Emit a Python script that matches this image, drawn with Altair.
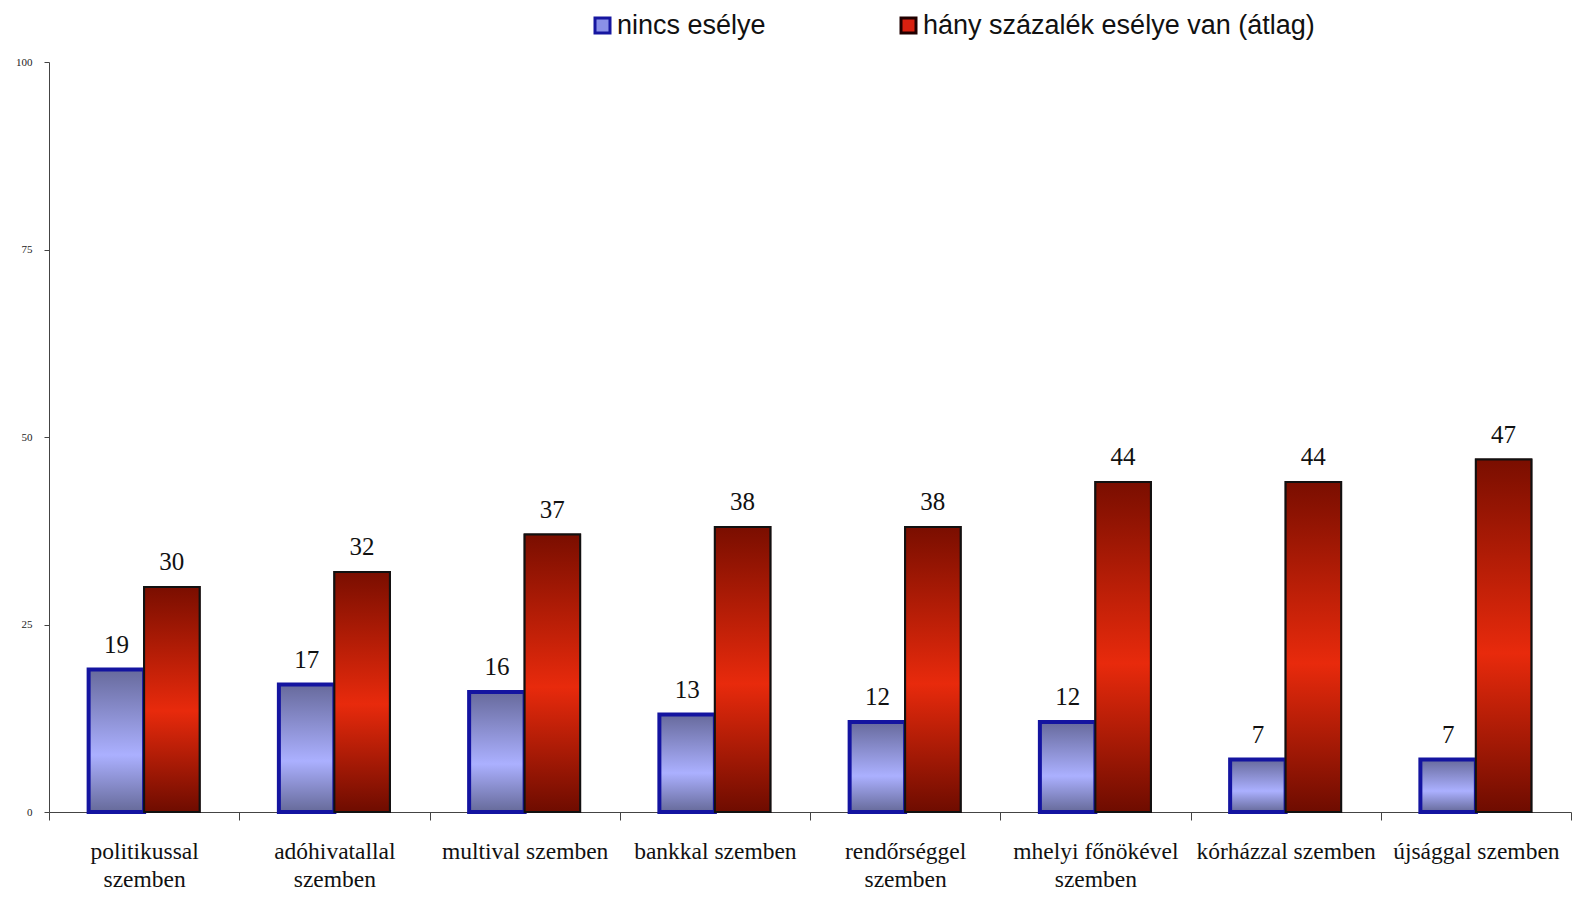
import altair as alt
import pandas as pd

categories = ["politikussal|szemben", "adóhivatallal|szemben", "multival szemben",
              "bankkal szemben", "rendőrséggel|szemben", "mhelyi főnökével|szemben",
              "kórházzal szemben", "újsággal szemben"]
series = ["nincs esélye", "hány százalék esélye van (átlag)"]
nincs_eselye = [19, 17, 16, 13, 12, 12, 7, 7]
atlag_esely = [30, 32, 37, 38, 38, 44, 44, 47]
y_ticks = [0, 25, 50, 75, 100]
title_text = "PERNYERÉSRE?"

rows = []
for c, a, b in zip(categories, nincs_eselye, atlag_esely):
    rows.append({"cat": c, "series": series[0], "value": a})
    rows.append({"cat": c, "series": series[1], "value": b})
df = pd.DataFrame(rows)

x = alt.X("cat:N", sort=categories,
          scale=alt.Scale(paddingInner=0, paddingOuter=0),
          axis=alt.Axis(title=None, labelAngle=0, tickBand="extent",
                        labelExpr="split(datum.label, '|')",
                        labelFont="Liberation Serif", labelFontSize=23.5,
                        labelColor="#111111", labelPadding=19, labelLineHeight=28,
                        labelBaseline="top", tickSize=8, tickColor="#444444",
                        domainColor="#444444", labelLimit=300))
xo = alt.XOffset("series:N", sort=series,
                 scale=alt.Scale(domain=series, paddingInner=0, paddingOuter=0.714))
y = alt.Y("value:Q", scale=alt.Scale(domain=[0, 100]),
          axis=alt.Axis(values=y_ticks, title=None, grid=False,
                        labelFont="Liberation Serif", labelFontSize=11,
                        labelColor="#222222", tickSize=5, labelPadding=12,
                        domainColor="#444444", tickColor="#444444"))

base = alt.Chart(df)

leg = alt.Legend(orient="none", legendX=540, legendY=-50, direction="horizontal",
                 title=None, symbolType="square", symbolSize=225, symbolStrokeWidth=3,
                 labelFont="Liberation Sans", labelFontSize=27, labelColor="#111111",
                 labelOffset=1, columnPadding=129, padding=0, labelLimit=600)

legend_layer = base.mark_bar(strokeWidth=2).encode(
    x=x, xOffset=xo, y=y,
    color=alt.Color("series:N", sort=series,
                    scale=alt.Scale(domain=series, range=["#8a90e8", "#d82010"]),
                    legend=leg),
    stroke=alt.Stroke("series:N", sort=series,
                      scale=alt.Scale(domain=series, range=["#1616a0", "#200000"]),
                      legend=leg),
)

blue_grad = {"gradient": "linear", "x1": 0, "y1": 0, "x2": 0, "y2": 1,
             "stops": [{"offset": 0, "color": "#676a9c"},
                       {"offset": 0.6, "color": "#abb0ff"},
                       {"offset": 1, "color": "#666a99"}]}
red_grad = {"gradient": "linear", "x1": 0, "y1": 0, "x2": 0, "y2": 1,
            "stops": [{"offset": 0, "color": "#7a0e00"},
                      {"offset": 0.55, "color": "#e82a0c"},
                      {"offset": 1, "color": "#6e0c00"}]}

blue_layer = base.transform_filter(alt.datum.series == series[0]).mark_bar(
    fill=blue_grad, stroke="#1414a0", strokeWidth=4).encode(x=x, xOffset=xo, y=y)
red_layer = base.transform_filter(alt.datum.series == series[1]).mark_bar(
    fill=red_grad, stroke="#111111", strokeWidth=2).encode(x=x, xOffset=xo, y=y)

text_layer = base.mark_text(font="Liberation Serif", fontSize=25, baseline="alphabetic",
                            dy=-17, color="#111111").encode(
    x=x, xOffset=xo, y=y, text="value:Q")

chart = alt.layer(legend_layer, blue_layer, red_layer, text_layer).properties(
    width=1522, height=750,
    padding={"left": 41, "top": 54, "right": 5, "bottom": 86},
    autosize=alt.AutoSizeParams(type="none"),
    title=alt.TitleParams(text=title_text, anchor="start", frame="group", offset=46,
                          dx=26, font="Liberation Serif", fontSize=22,
                          fontWeight="normal", baseline="alphabetic", color="#111111"),
).configure_view(stroke=None)

chart.save("out.html", embed_options={"renderer": "svg", "actions": False})
